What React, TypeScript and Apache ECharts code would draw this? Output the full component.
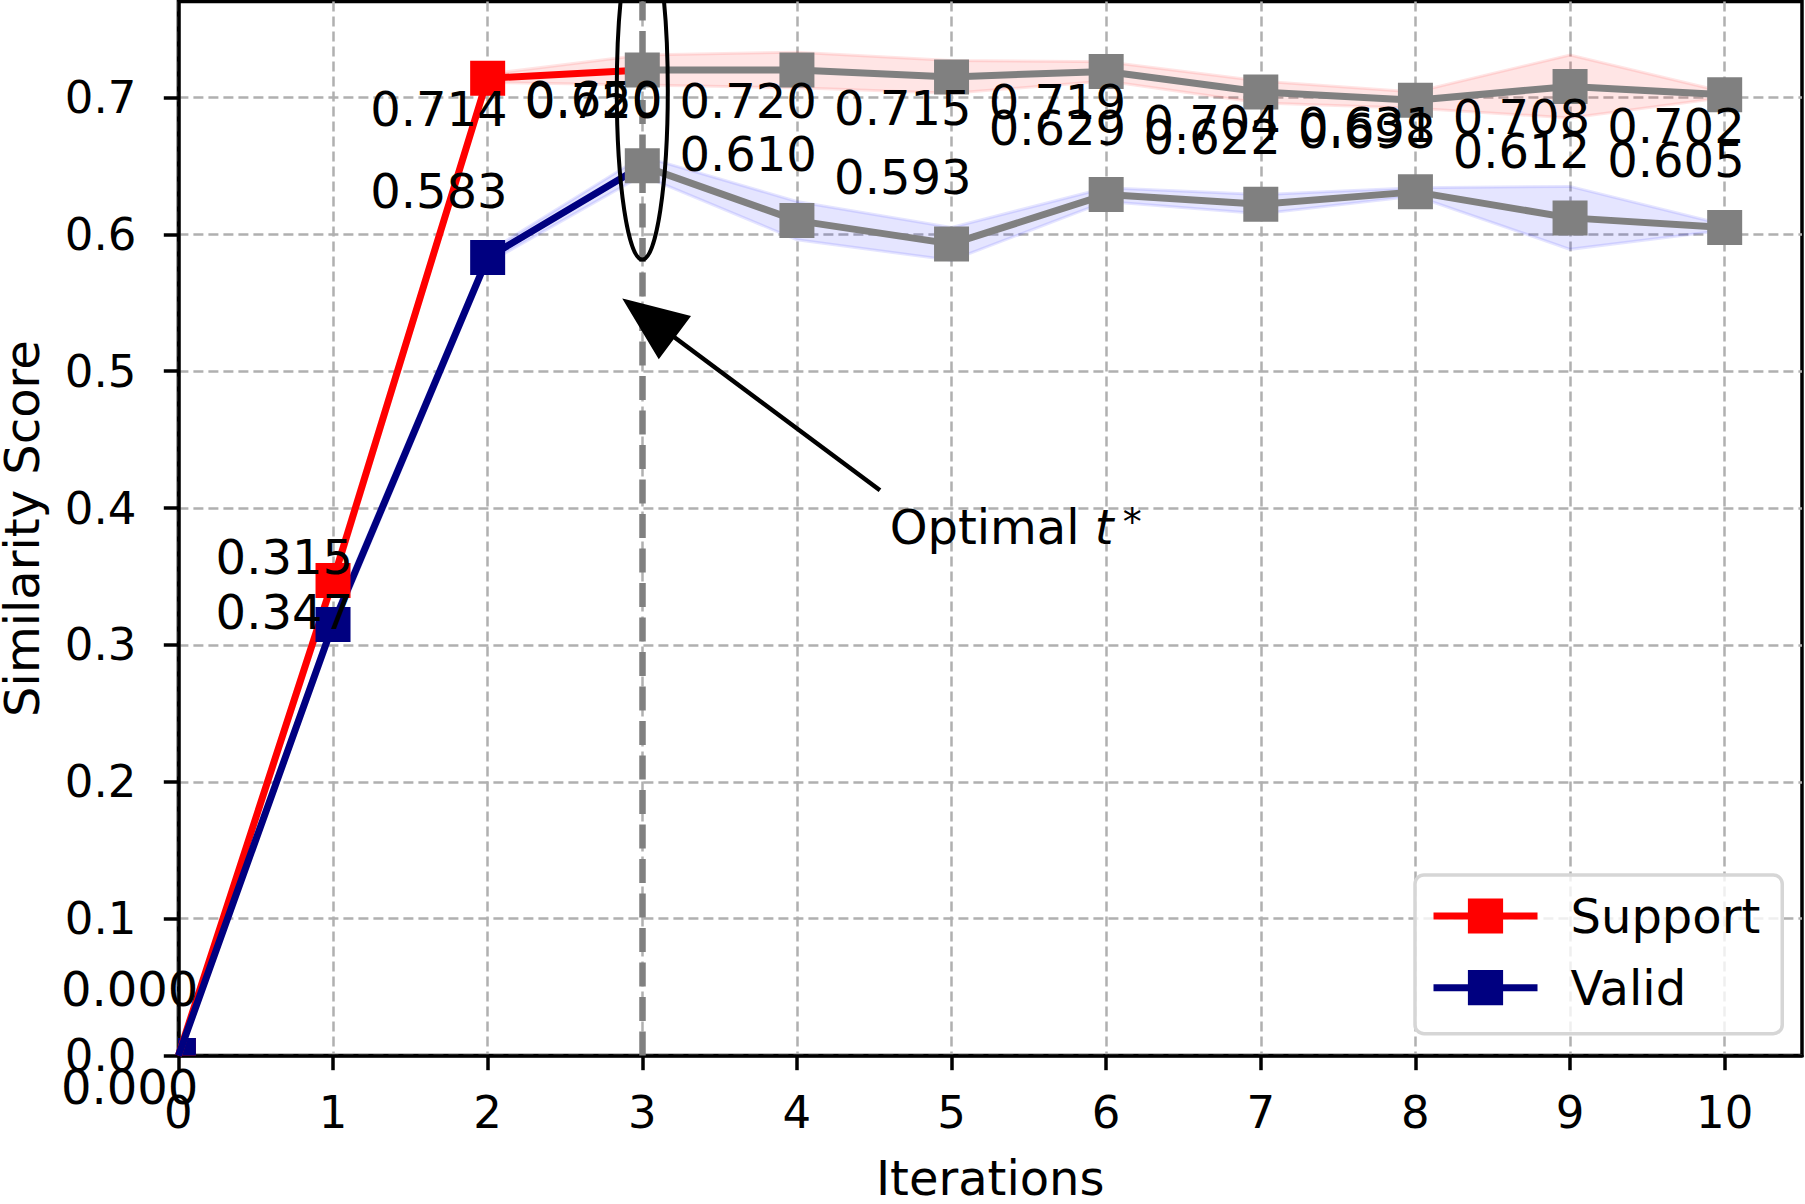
import React, { useEffect, useRef } from 'react';
import * as echarts from 'echarts';

// ---------------- data ----------------
const iterations = [0, 1, 2, 3, 4, 5, 6, 7, 8, 9, 10];
const supportScores = [0.0, 0.347, 0.714, 0.72, 0.72, 0.715, 0.719, 0.704, 0.698, 0.708, 0.702];
const validScores = [0.0, 0.315, 0.583, 0.65, 0.61, 0.593, 0.629, 0.622, 0.631, 0.612, 0.605];
const supportStd = [0.0, 0.006, 0.003, 0.011, 0.013, 0.012, 0.007, 0.008, 0.006, 0.023, 0.002];
const validStd = [0.0, 0.005, 0.004, 0.007, 0.014, 0.012, 0.005, 0.007, 0.003, 0.023, 0.002];
const optimalIteration = 3;
const xTicks = [0, 1, 2, 3, 4, 5, 6, 7, 8, 9, 10];
const yTicks = [0, 0.1, 0.2, 0.3, 0.4, 0.5, 0.6, 0.7];
const seriesNames = ['Support', 'Valid'];
const xAxisTitle = 'Iterations';
const yAxisTitle = 'Similarity Score';
const annotationLabel = 'Optimal ';
const annotationSymbol = 't';
const annotationSup = '*';
const arrowTip = [2.884, 0.552];
const arrowTail = [4.537, 0.413];
const annotationTextAt = [4.6, 0.3863];
const ellipseCenter = [3, 0.705];
const ellipseRadii = [0.165, 0.1235];

const FONT = 'DejaVu Sans';
const RED = '#ff0000';
const NAVY = '#000080';
const GRAY = '#808080';
const MARKER = 35;

function bandSeries(name: string, scores: number[], std: number[], rgb: string) {
  return {
    type: 'custom',
    name,
    coordinateSystem: 'cartesian2d',
    silent: true,
    z: 1,
    data: iterations.map((x, i) => [x, scores[i] - std[i], scores[i] + std[i]]),
    encode: { x: 0, y: [1, 2] },
    renderItem: (params: any, api: any) => {
      if (params.dataIndex !== 0) return null;
      const upper = iterations.map((x, i) => api.coord([x, scores[i] + std[i]]));
      const lower = iterations.map((x, i) => api.coord([x, scores[i] - std[i]]));
      const poly = upper.concat(lower.slice().reverse());
      return {
        type: 'polygon',
        shape: { points: poly },
        style: { fill: 'rgba(' + rgb + ',0.1)', stroke: 'rgba(' + rgb + ',0.1)', lineWidth: 3 },
      };
    },
  };
}

// points lying on the axes are drawn by a clipped marker series (see startMarkers)
function mainSeries(name: string, scores: number[], color: string, extra: any = {}) {
  return {
    type: 'line',
    name,
    data: iterations
      .filter((x) => x <= optimalIteration)
      .map((x) =>
        x === optimalIteration || x === 0
          ? { value: [x, scores[x]], symbol: 'none' }
          : [x, scores[x]]
      ),
    symbol: 'rect',
    symbolSize: MARKER,
    showAllSymbol: true,
    itemStyle: { color },
    lineStyle: { color, width: 7 },
    silent: true,
    z: 3,
    ...extra,
  };
}

function startMarkers(name: string, scores: number[], color: string) {
  return {
    type: 'custom',
    name,
    coordinateSystem: 'cartesian2d',
    silent: true,
    clip: true,
    z: 3,
    data: [[iterations[0], scores[0]]],
    renderItem: (_params: any, api: any) => {
      const p = api.coord([api.value(0), api.value(1)]);
      return {
        type: 'rect',
        shape: { x: p[0] - MARKER / 2, y: p[1] - MARKER / 2, width: MARKER, height: MARKER },
        style: { fill: color },
      };
    },
  };
}

function afterSeries(name: string, scores: number[]) {
  return {
    type: 'line',
    name,
    data: iterations.filter((x) => x >= optimalIteration).map((x) => [x, scores[x]]),
    symbol: 'rect',
    symbolSize: MARKER,
    showAllSymbol: true,
    itemStyle: { color: GRAY },
    lineStyle: { color: GRAY, width: 7 },
    silent: true,
    z: 4,
  };
}

function labelSeries(name: string, scores: number[], dy: number) {
  return {
    type: 'line',
    name,
    data: iterations.map((x, i) => [x, scores[i]]),
    symbol: 'rect',
    symbolSize: 1,
    showAllSymbol: true,
    itemStyle: { color: 'rgba(0,0,0,0)', opacity: 1 },
    lineStyle: { width: 0, opacity: 0 },
    silent: true,
    z: 6,
    label: {
      show: true,
      position: 'inside',
      align: 'right',
      verticalAlign: 'middle',
      offset: [20, dy],
      formatter: (p: any) => p.value[1].toFixed(3),
      fontSize: 48,
      fontFamily: FONT,
      color: '#000000',
      opacity: 1,
    },
  };
}

export default function App() {
  const ref = useRef<HTMLDivElement>(null);

  useEffect(() => {
    if (!ref.current) return;
    const chart = echarts.init(ref.current, null, { renderer: 'svg' });

    const option: any = {
      animation: false,
      backgroundColor: '#ffffff',
      textStyle: { fontFamily: FONT },
      grid: {
        left: 178.4,
        right: 3,
        top: 1.6,
        bottom: 148.4,
        outerBoundsMode: 'none',
        containLabel: false,
        show: true,
        borderColor: '#000',
        borderWidth: 3.5,
        backgroundColor: 'transparent',
      },
      legend: {
        data: seriesNames,
        orient: 'vertical',
        left: 1415,
        top: 875,
        padding: [17, 22, 22, 15],
        itemGap: 23.7,
        itemWidth: 104,
        itemHeight: 44,
        selectedMode: false,
        backgroundColor: 'rgba(255,255,255,0.8)',
        borderColor: '#d6d6d6',
        borderWidth: 3.5,
        borderRadius: 9,
        lineStyle: { width: 7 },
        textStyle: { fontSize: 48, color: '#000', fontFamily: FONT, padding: [0, 0, 0, 28] },
      },
      xAxis: {
        type: 'value',
        min: 0,
        max: 10.5,
        name: xAxisTitle,
        nameLocation: 'middle',
        nameGap: 98,
        nameTextStyle: { fontSize: 48, color: '#000', fontFamily: FONT },
        axisLine: { show: true, onZero: false, lineStyle: { color: '#000', width: 3.5 } },
        axisTick: {
          show: true,
          inside: false,
          length: 14.6,
          lineStyle: { color: '#000', width: 3.5 },
          customValues: xTicks,
        },
        axisLabel: {
          show: true,
          margin: 34,
          fontSize: 45,
          color: '#000',
          fontFamily: FONT,
          customValues: xTicks,
          formatter: (v: number) => String(v),
        },
        splitLine: { show: true, lineStyle: { color: '#b0b0b0', width: 2.5, type: [10, 5] } },
      },
      yAxis: {
        type: 'value',
        min: 0,
        max: 0.77,
        name: yAxisTitle,
        nameLocation: 'middle',
        nameGap: 132,
        nameTextStyle: { fontSize: 48, color: '#000', fontFamily: FONT },
        axisLine: { show: true, onZero: false, lineStyle: { color: '#000', width: 3.5 } },
        axisTick: {
          show: true,
          inside: false,
          length: 14.6,
          lineStyle: { color: '#000', width: 3.5 },
          customValues: yTicks,
        },
        axisLabel: {
          show: true,
          margin: 42,
          fontSize: 45,
          color: '#000',
          fontFamily: FONT,
          customValues: yTicks,
          formatter: (v: number) => v.toFixed(1),
        },
        splitLine: { show: true, lineStyle: { color: '#b0b0b0', width: 2.5, type: [10, 5] } },
      },
      series: [
        bandSeries('Support band', supportScores, supportStd, '255,0,0'),
        bandSeries('Valid band', validScores, validStd, '0,0,255'),
        mainSeries(seriesNames[0], supportScores, RED),
        startMarkers('Support start', supportScores, RED),
        mainSeries(seriesNames[1], validScores, NAVY, {
          markLine: {
            silent: true,
            symbol: ['none', 'none'],
            label: { show: false },
            lineStyle: { color: GRAY, width: 6.5, type: [24, 10.5] },
            data: [{ xAxis: optimalIteration }],
          },
        }),
        startMarkers('Valid start', validScores, NAVY),
        afterSeries('Support (t ≥ t*)', supportScores),
        afterSeries('Valid (t ≥ t*)', validScores),
        labelSeries('Support labels', supportScores, 31),
        labelSeries('Valid labels', validScores, -67),
        {
          type: 'custom',
          name: 'annotation',
          coordinateSystem: 'cartesian2d',
          data: [[optimalIteration, 0]],
          silent: true,
          clip: false,
          z: 8,
          renderItem: (_params: any, api: any) => {
            const c = api.coord(ellipseCenter);
            const s = api.size(ellipseRadii);
            const tip = api.coord(arrowTip);
            const tail = api.coord(arrowTail);
            const dx = tip[0] - tail[0];
            const dy = tip[1] - tail[1];
            const len = Math.hypot(dx, dy);
            const ux = dx / len;
            const uy = dy / len;
            const headLen = 62;
            const headHalf = 25.5;
            const bx = tip[0] - ux * headLen;
            const by = tip[1] - uy * headLen;
            const nx = -uy;
            const ny = ux;
            const t = api.coord(annotationTextAt);
            return {
              type: 'group',
              children: [
                {
                  type: 'ellipse',
                  shape: { cx: c[0], cy: c[1], rx: s[0], ry: s[1] },
                  style: { fill: 'none', stroke: '#000', lineWidth: 4 },
                },
                {
                  type: 'line',
                  shape: { x1: tail[0], y1: tail[1], x2: bx, y2: by },
                  style: { stroke: '#000', lineWidth: 4.5 },
                },
                {
                  type: 'polygon',
                  shape: {
                    points: [
                      [tip[0], tip[1]],
                      [bx + nx * headHalf, by + ny * headHalf],
                      [bx - nx * headHalf, by - ny * headHalf],
                    ],
                  },
                  style: { fill: '#000', stroke: '#000', lineWidth: 2 },
                },
                {
                  type: 'text',
                  x: t[0],
                  y: t[1],
                  style: {
                    text: annotationLabel + '{it|' + annotationSymbol + '}{sup|' + annotationSup + '}',
                    fontSize: 48,
                    fontFamily: FONT,
                    fill: '#000',
                    align: 'left',
                    verticalAlign: 'middle',
                    rich: {
                      it: { fontSize: 48, fontFamily: FONT, fontStyle: 'italic', fill: '#000' },
                      sup: {
                        fontSize: 38,
                        fontFamily: FONT,
                        fill: '#000',
                        verticalAlign: 'top',
                        padding: [0, 0, 0, 9],
                      },
                    },
                  },
                },
              ],
            };
          },
        },
      ],
    };

    chart.setOption(option);
    return () => {
      chart.dispose();
    };
  }, []);

  return (
    <div
      ref={ref}
      style={{ position: 'absolute', left: 0, top: 0, width: 1805, height: 1204 }}
    />
  );
}
